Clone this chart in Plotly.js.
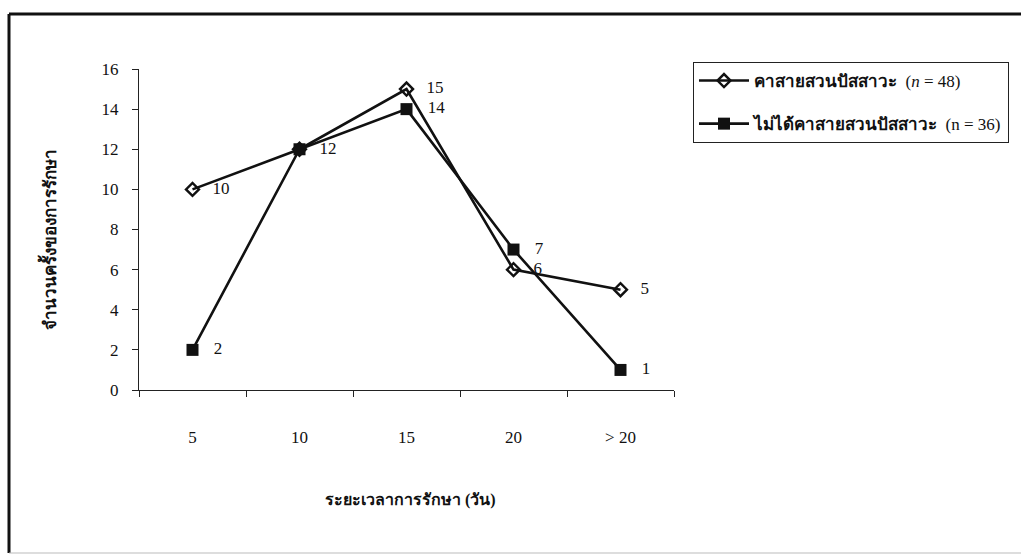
<!DOCTYPE html>
<html>
<head>
<meta charset="utf-8">
<script src="https://cdn.plot.ly/plotly-3.0.1.min.js"></script>
<style>html,body{margin:0;padding:0;background:#fff;}#chart{width:1021px;height:555px;}</style>
</head>
<body>
<div id="chart"></div>
<script>
var categories = ['5', '10', '15', '20', '> 20'];
var retainedValues = [10, 12, 15, 6, 5];
var notRetainedValues = [2, 12, 14, 7, 1];
var seriesNames = ['<b>คาสายสวนปัสสาวะ</b>  (<i>n</i> = 48)', '<b>ไม่ได้คาสายสวนปัสสาวะ</b>  (n = 36)'];
var xTitle = 'ระยะเวลาการรักษา (วัน)';
var yTitle = 'จำนวนครั้งของการรักษา';

var serif = 'Liberation Serif, Times New Roman, serif';

// one label where both series share the same value
var notRetainedText = notRetainedValues.map(function (v, i) { return v === retainedValues[i] ? '' : String(v); });

var traces = [
  {
    x: categories, y: retainedValues, name: seriesNames[0], type: 'scatter', mode: 'lines+markers+text',
    text: retainedValues.map(String), texttemplate: '   %{text}', textposition: 'middle right',
    textfont: {family: serif, size: 17, color: '#111'},
    line: {color: '#111', width: 2.6},
    marker: {symbol: 'diamond-open', size: 10, color: '#111', line: {width: 2.4, color: '#111'}},
    legendgroup: 'a', cliponaxis: false
  },
  {
    x: categories, y: notRetainedValues, name: seriesNames[1], type: 'scatter', mode: 'lines+markers+text',
    text: notRetainedText, texttemplate: '   %{text}', textposition: 'middle right',
    textfont: {family: serif, size: 17, color: '#111'},
    line: {color: '#111', width: 2.6},
    marker: {symbol: 'square', size: 12, color: '#111'},
    legendgroup: 'b', cliponaxis: false
  }
];

var layout = {
  width: 1021, height: 555,
  margin: {l: 139, r: 347, t: 69, b: 165},
  paper_bgcolor: '#fff', plot_bgcolor: 'rgba(0,0,0,0)',
  showlegend: true,
  legend: {
    x: 1.0355, y: 1.0218, xanchor: 'left', yanchor: 'top',
    bordercolor: '#222', borderwidth: 1, bgcolor: '#fff',
    font: {family: serif, size: 17, color: '#111'},
    traceorder: 'grouped', tracegroupgap: 18, itemwidth: 50
  },
  xaxis: {
    type: 'category', showgrid: false, zeroline: false,
    showline: true, linecolor: '#222', linewidth: 1,
    ticks: 'outside', tickson: 'boundaries', ticklen: 6, tickcolor: '#222',
    ticklabelstandoff: 32,
    tickfont: {family: serif, size: 17, color: '#111'},
    range: [-0.5, 4.5], fixedrange: true
  },
  yaxis: {
    range: [0, 16], dtick: 2, showgrid: false, zeroline: false,
    showline: true, linecolor: '#222', linewidth: 1,
    ticks: 'outside', ticklen: 6, tickcolor: '#222',
    ticklabelstandoff: 10,
    tickfont: {family: serif, size: 17, color: '#111'},
    fixedrange: true
  },
  annotations: [
    {text: '<b>' + xTitle + '</b>', xref: 'paper', yref: 'paper', x: (410 - 139) / 535, y: (390 - 500) / 321,
     xanchor: 'center', yanchor: 'middle', showarrow: false, font: {family: serif, size: 16, color: '#111'}},
    {text: '<b>' + yTitle + '</b>', xref: 'paper', yref: 'paper', x: (48 - 139) / 535, y: (390 - 239) / 321,
     xanchor: 'center', yanchor: 'middle', textangle: -90, showarrow: false, font: {family: serif, size: 17, color: '#111'}}
  ],
  shapes: [
    {type: 'line', xref: 'paper', yref: 'paper', x0: (9 - 139) / 535, x1: (9 - 139) / 535, y0: (390 - 14) / 321, y1: (390 - 553) / 321, line: {color: '#111', width: 3}},
    {type: 'line', xref: 'paper', yref: 'paper', x0: (9 - 139) / 535, x1: (1021 - 139) / 535, y0: (390 - 14) / 321, y1: (390 - 14) / 321, line: {color: '#111', width: 3}},
    {type: 'line', xref: 'paper', yref: 'paper', x0: (9 - 139) / 535, x1: (1021 - 139) / 535, y0: (390 - 553) / 321, y1: (390 - 553) / 321, line: {color: '#bbb', width: 1}}
  ]
};

Plotly.newPlot('chart', traces, layout, {staticPlot: true, displayModeBar: false});
</script>
</body>
</html>
